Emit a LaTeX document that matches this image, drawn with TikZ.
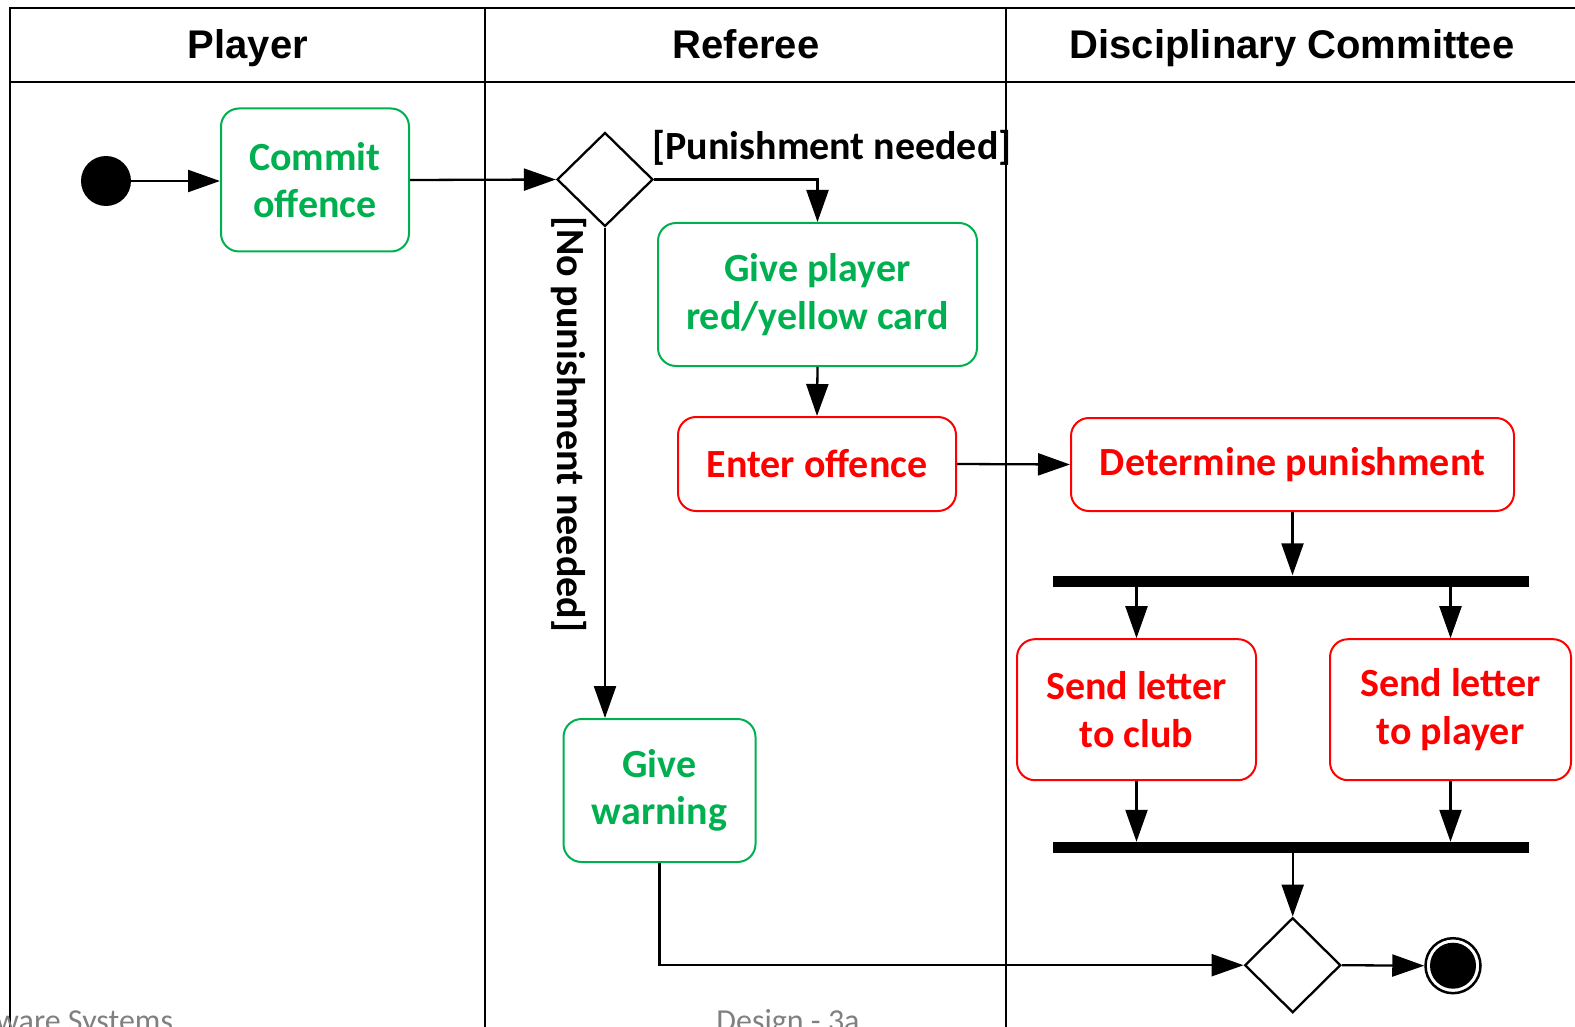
\documentclass[tikz,border=0pt]{standalone}
\usepackage{fontspec}
\setmainfont{Carlito}
\newfontfamily\hdrfont{Liberation Sans}
\usetikzlibrary{shapes.geometric,arrows.meta}
\definecolor{actgreen}{RGB}{0,176,80}
\definecolor{actred}{RGB}{255,0,0}
\definecolor{footgray}{RGB}{128,128,128}

\begin{document}
\begin{tikzpicture}[x=1pt,y=-1pt,
  lane/.style={line width=2.5pt},
  act/.style={draw, rounded corners=18pt, line width=2pt, align=center,
    font=\fontsize{40}{47.5}\selectfont\bfseries, inner sep=0pt},
  greenact/.style={act, draw=actgreen, text=actgreen},
  redact/.style={act, draw=actred, text=actred},
  flow/.style={line width=2.3pt, -{Triangle[length=32pt,width=22pt]}},
  bar/.style={fill=black, minimum width=476pt, minimum height=11pt, inner sep=0pt},
  decision/.style={diamond, draw, line width=2.3pt, minimum width=96pt,
    minimum height=94pt, inner sep=0pt},
  guard/.style={font=\fontsize{40}{46}\selectfont\bfseries, inner sep=0pt},
  lanetitle/.style={font=\hdrfont\bfseries\fontsize{40}{44}\selectfont, inner sep=0pt, anchor=base},
  footer/.style={font=\fontsize{32}{36}\selectfont, text=footgray, inner sep=0pt}
]
\useasboundingbox (0,0) rectangle (1575,1027);

% swimlane frame
\draw[lane] (1580,8) -- (10,8) -- (10,1040);
\draw[lane] (10,82) -- (1580,82);
\draw[lane] (485,8) -- (485,1040);
\draw[lane] (1006,8) -- (1006,1040);

\node[lanetitle] (tplayer) at (248,59) {Player};
\node[lanetitle] (treferee) at (746,59) {Referee};
\node[lanetitle] (tcommittee) at (1292,59) {Disciplinary Committee};

% activities
\node[circle, fill=black, minimum size=50pt, inner sep=0pt] (init) at (106,181) {};
\node[greenact, minimum width=188pt, minimum height=143pt] (commit) at (315,180) {Commit\\offence};
\node[decision] (d1) at (605,179.5) {};
\node[greenact, minimum width=319pt, minimum height=143pt] (card) at (817.5,294.5) {Give player\\red/yellow card};
\node[redact, minimum width=278pt, minimum height=94pt] (enter) at (817,464) {Enter offence};
\node[redact, minimum width=443pt, minimum height=93pt] (det) at (1292.5,464.5) {Determine punishment};
\node[bar] (fork) at (1291,581) {};
\node[redact, minimum width=239pt, minimum height=141pt] (club) at (1136.5,709.7) {Send letter\\to club};
\node[redact, minimum width=241pt, minimum height=141pt] (plyr) at (1450.5,709.7) {Send letter\\to player};
\node[bar] (join) at (1291,847.5) {};
\node[greenact, minimum width=192pt, minimum height=143pt] (warn) at (659.5,790.5) {Give\\warning};
\node[decision, minimum height=95pt] (d2) at (1292.7,965.2) {};
\node[circle, draw, line width=2.5pt, minimum size=55pt, inner sep=0pt] (fin) at (1453,965.7) {};
\node[circle, fill=black, minimum size=46pt, inner sep=0pt] (fincore) at (fin) {};

% guards
\node[guard] (gyes) at (832,148) {[Punishment needed]};
\node[guard, rotate=-90] (gno) at (569,424) {[No punishment needed]};

% control flow
\draw[flow] (init.east) -- (init.east -| commit.west);
\draw[flow] (commit.east) -- (d1.west);
\draw[flow] (d1.east) -| (card.north);
\draw[flow] (d1.south) -- (d1.south |- warn.north);
\draw[flow] (card.south) -- (enter.north);
\draw[flow] (enter.east) -- (det.west);
\draw[flow] (det.south) -- (det.south |- fork.north);
\draw[flow] (fork.south -| club.north) -- (club.north);
\draw[flow] (fork.south -| plyr.north) -- (plyr.north);
\draw[flow] (club.south) -- (club.south |- join.north);
\draw[flow] (plyr.south) -- (plyr.south |- join.north);
\draw[flow] (join.south -| d2.north) -- (d2.north);
\draw[flow] (warn.south) |- (d2.west);
\draw[flow] (d2.east) -- (fin.west);

% slide footer
\node[footer, anchor=base west] (fleft) at (-4,1031) {ware Systems};
\node[footer, anchor=base] (fmid) at (788,1031) {Design - 3a};
\end{tikzpicture}
\end{document}
